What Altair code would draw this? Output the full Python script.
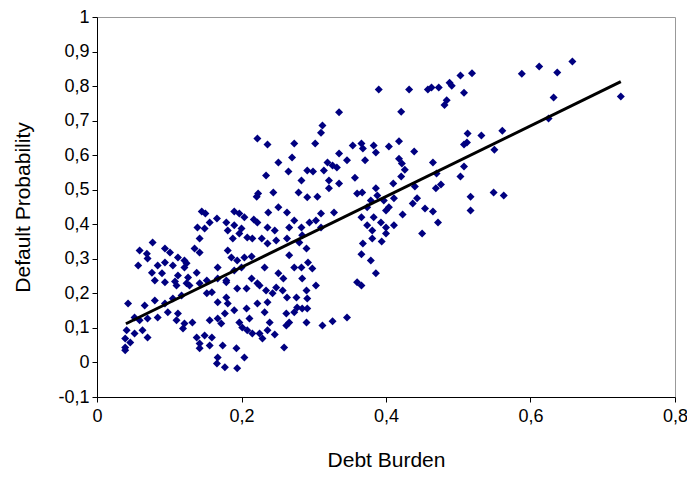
import altair as alt
import pandas as pd

debt_burden = [
    0.725, 0.588, 0.612, 0.637, 0.658, 0.632, 0.625, 0.561, 0.550, 0.549, 0.563,
    0.432, 0.458, 0.463, 0.473, 0.488, 0.491, 0.503, 0.519, 0.508, 0.484, 0.481,
    0.421, 0.418, 0.439, 0.418, 0.422, 0.426, 0.421, 0.465, 0.470, 0.508, 0.503,
    0.513, 0.508, 0.512, 0.532, 0.440, 0.476, 0.469, 0.443, 0.437, 0.454, 0.465,
    0.472, 0.423, 0.517, 0.517, 0.450,
    0.390, 0.335, 0.312, 0.310, 0.354, 0.366, 0.368, 0.383, 0.386, 0.404, 0.335,
    0.346, 0.371, 0.319, 0.326, 0.332, 0.314, 0.321, 0.335, 0.357, 0.321, 0.410,
    0.360, 0.367, 0.386, 0.388, 0.379, 0.374, 0.397, 0.404, 0.411, 0.400, 0.328,
    0.366, 0.383, 0.393, 0.374, 0.400, 0.411,
    0.381, 0.400, 0.381, 0.394, 0.368, 0.366, 0.379, 0.386, 0.360, 0.366, 0.346,
    0.326, 0.312,
    0.222, 0.236, 0.273, 0.302, 0.270, 0.251, 0.265, 0.291, 0.299, 0.234, 0.283,
    0.223, 0.244, 0.279, 0.291, 0.305, 0.237, 0.251, 0.263, 0.310, 0.222, 0.236,
    0.246, 0.273, 0.266, 0.283, 0.294, 0.303, 0.310, 0.284,
    0.228, 0.236, 0.248, 0.263, 0.280, 0.290, 0.266, 0.273, 0.283, 0.292, 0.298,
    0.284, 0.303, 0.232, 0.251, 0.258, 0.225, 0.234, 0.248, 0.243, 0.257, 0.263,
    0.276, 0.290, 0.291, 0.222, 0.236, 0.277, 0.284, 0.262, 0.273, 0.232, 0.291,
    0.290, 0.266, 0.262, 0.239, 0.236, 0.246, 0.225, 0.229, 0.259,
    0.221, 0.145, 0.150, 0.190, 0.197, 0.204, 0.217, 0.166, 0.156, 0.179, 0.139,
    0.149, 0.190, 0.200, 0.181, 0.188, 0.208, 0.215, 0.197, 0.142, 0.135, 0.142,
    0.181, 0.186, 0.194, 0.204, 0.214, 0.124, 0.167, 0.138, 0.190, 0.200, 0.126,
    0.152, 0.167, 0.179, 0.214,
    0.077, 0.059, 0.069, 0.094, 0.101, 0.112, 0.057, 0.070, 0.084, 0.094, 0.121,
    0.121, 0.105, 0.076, 0.090, 0.112, 0.080, 0.094, 0.108,
    0.043, 0.066, 0.080, 0.094, 0.105, 0.117, 0.124, 0.110, 0.112, 0.098, 0.084,
    0.070, 0.059, 0.052, 0.110, 0.121, 0.119, 0.041, 0.052, 0.063, 0.070, 0.039,
    0.039, 0.039, 0.046,
    0.128, 0.142, 0.152, 0.159, 0.179, 0.194, 0.207, 0.222, 0.167, 0.179, 0.181,
    0.190, 0.207, 0.132, 0.156, 0.167, 0.172, 0.177, 0.197, 0.201, 0.211, 0.208,
    0.215, 0.138, 0.149, 0.159, 0.142, 0.156, 0.142, 0.174, 0.193, 0.204, 0.167,
    0.166, 0.177, 0.194,
]
default_prob = [
    0.770, 0.836, 0.857, 0.839, 0.871, 0.767, 0.706, 0.671, 0.616, 0.492, 0.483,
    0.790, 0.790, 0.796, 0.796, 0.810, 0.801, 0.831, 0.837, 0.781, 0.759, 0.745,
    0.726, 0.640, 0.611, 0.590, 0.576, 0.558, 0.538, 0.579, 0.547, 0.567, 0.538,
    0.663, 0.631, 0.637, 0.657, 0.509, 0.515, 0.504, 0.475, 0.460, 0.446, 0.437,
    0.405, 0.428, 0.480, 0.440, 0.373,
    0.790, 0.724, 0.686, 0.665, 0.628, 0.634, 0.619, 0.628, 0.608, 0.625, 0.605,
    0.585, 0.585, 0.579, 0.570, 0.564, 0.556, 0.527, 0.518, 0.535, 0.504, 0.518,
    0.489, 0.492, 0.504, 0.483, 0.469, 0.449, 0.469, 0.449, 0.475, 0.440, 0.434,
    0.420, 0.420, 0.405, 0.397, 0.391, 0.397,
    0.382, 0.373, 0.359, 0.350, 0.344, 0.313, 0.295, 0.258, 0.232, 0.223, 0.130,
    0.119, 0.107,
    0.648, 0.631, 0.634, 0.634, 0.593, 0.579, 0.553, 0.556, 0.553, 0.541, 0.527,
    0.489, 0.492, 0.492, 0.478, 0.480, 0.434, 0.449, 0.434, 0.431, 0.405, 0.391,
    0.382, 0.411, 0.391, 0.391, 0.405, 0.411, 0.391, 0.368,
    0.359, 0.344, 0.353, 0.359, 0.347, 0.330, 0.310, 0.275, 0.275, 0.289, 0.272,
    0.243, 0.223, 0.275, 0.258, 0.243, 0.223, 0.208, 0.217, 0.200, 0.208, 0.188,
    0.188, 0.208, 0.185, 0.171, 0.174, 0.159, 0.156, 0.142, 0.145, 0.145, 0.156,
    0.116, 0.116, 0.107, 0.116, 0.093, 0.081, 0.084, 0.069, 0.043,
    0.480, 0.437, 0.431, 0.437, 0.431, 0.420, 0.414, 0.417, 0.405, 0.405, 0.391,
    0.388, 0.397, 0.388, 0.382, 0.359, 0.362, 0.359, 0.373, 0.359, 0.330, 0.318,
    0.324, 0.304, 0.295, 0.304, 0.307, 0.287, 0.275, 0.260, 0.266, 0.275, 0.246,
    0.237, 0.243, 0.237, 0.243,
    0.347, 0.324, 0.315, 0.330, 0.318, 0.304, 0.281, 0.301, 0.281, 0.289, 0.295,
    0.275, 0.281, 0.260, 0.258, 0.252, 0.237, 0.232, 0.234,
    0.171, 0.165, 0.179, 0.171, 0.185, 0.194, 0.229, 0.223, 0.142, 0.145, 0.130,
    0.127, 0.122, 0.130, 0.122, 0.113, 0.098, 0.093, 0.084, 0.093, 0.072, 0.069,
    0.043, 0.035, 0.058,
    0.223, 0.229, 0.200, 0.203, 0.232, 0.214, 0.214, 0.229, 0.174, 0.188, 0.171,
    0.151, 0.156, 0.116, 0.122, 0.127, 0.113, 0.142, 0.116, 0.101, 0.127, 0.093,
    0.084, 0.072, 0.078, 0.072, 0.055, 0.049, 0.041, 0.049, 0.041, 0.014, 0.014,
    -0.003, -0.014, -0.017,
]

# Fitted trend line end points
trend_x = [0.040, 0.725]
trend_y = [0.112, 0.813]

x_ticks = [0, 0.2, 0.4, 0.6, 0.8]
y_ticks = [-0.1, 0, 0.1, 0.2, 0.3, 0.4, 0.5, 0.6, 0.7, 0.8, 0.9, 1.0]

FONT = "Liberation Sans"
LFS = 18
TFS = 21
label_expr = "(datum.value < 0 ? '-' : '') + replace(format(abs(datum.value), '~g'), '.', ',')"

pts = pd.DataFrame({"x": debt_burden, "y": default_prob})
trend = pd.DataFrame({"x": trend_x, "y": trend_y})

x_enc = alt.X(
    "x:Q",
    scale=alt.Scale(domain=[0, 0.8], nice=False, zero=False),
    axis=alt.Axis(
        values=x_ticks, labelExpr=label_expr, title="Debt Burden", grid=False,
        domainColor="black", tickColor="black", tickSize=5, labelFlush=False,
        labelOverlap=False,
        labelFont=FONT, labelFontSize=LFS, labelColor="black", labelPadding=5,
        titleFont=FONT, titleFontSize=TFS, titleFontWeight="normal",
        titleColor="black", titlePadding=24,
    ),
)
y_enc = alt.Y(
    "y:Q",
    scale=alt.Scale(domain=[-0.1, 1.0], nice=False, zero=False),
    axis=alt.Axis(
        values=y_ticks, labelExpr=label_expr, title="Default Probability", grid=False,
        domainColor="black", tickColor="black", tickSize=5, labelFlush=False,
        labelOverlap=False,
        labelFont=FONT, labelFontSize=LFS, labelColor="black", labelPadding=3,
        titleFont=FONT, titleFontSize=TFS, titleFontWeight="normal",
        titleColor="black", titlePadding=24,
    ),
)

points = alt.Chart(pts).mark_point(
    shape="diamond", filled=True, size=64, color="#000080", opacity=1
)

line = alt.Chart(trend).mark_line(color="black", strokeWidth=3)

chart = (
    alt.layer(points, line)
    .encode(x=x_enc, y=y_enc)
    .properties(
        width=578,
        height=380,
        autosize=alt.AutoSizeParams(type="none"),
        padding={"left": 89, "top": 9, "right": 12, "bottom": 72},
    )
    .configure_view(stroke="#999999", strokeWidth=1)
)

chart.save("out.html", embed_options={"renderer": "svg", "actions": False})
